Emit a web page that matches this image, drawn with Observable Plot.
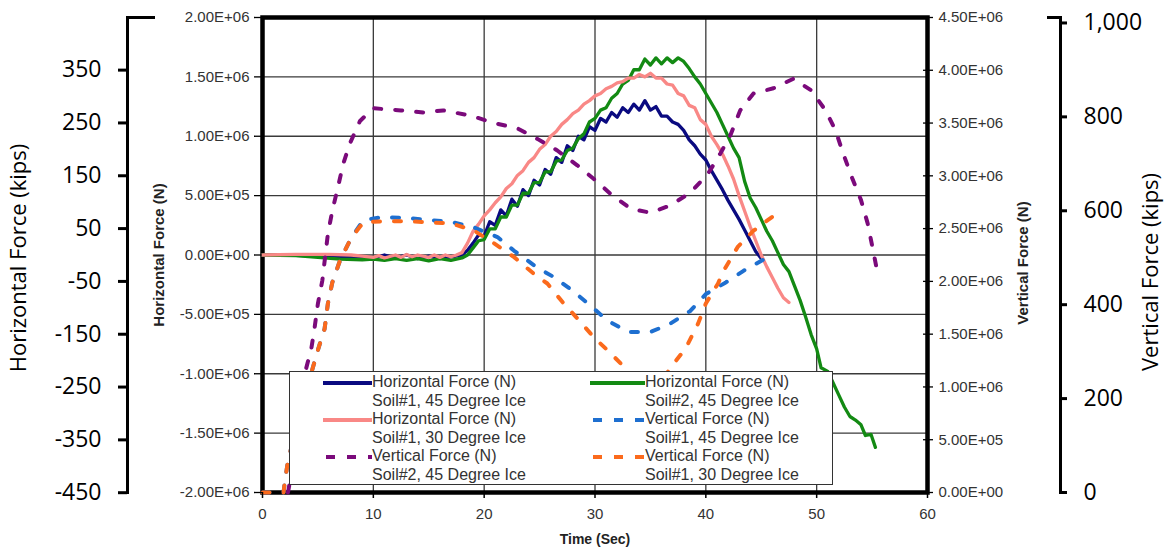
<!DOCTYPE html>
<html>
<head>
<meta charset="utf-8">
<script src="https://cdn.jsdelivr.net/npm/d3@7"></script>
<script src="https://cdn.jsdelivr.net/npm/@observablehq/plot@0.6"></script>
<style>
  body { margin: 0; background: #fff; }
  #wrap { position: relative; width: 1167px; height: 550px; }
  #legend { position: absolute; left: 289px; top: 371px; width: 544px; height: 114px; box-sizing: border-box;
            border: 1px solid #333; background: #fff; font-family: "Liberation Sans", Arial, sans-serif;
            font-size: 16px; color: #333; }
  .item { position: absolute; }
  .item svg { position: absolute; top: 6px; }
  .item .txt { position: absolute; line-height: 18.5px; white-space: nowrap; }
</style>
</head>
<body>
<div id="wrap"><div id="legend"></div></div>
<script>
// ---- data (time in s, force in MN) ----
const hS1_45 = [[0,0],[2,0],[4,-0.005],[6,-0.01],[8,-0.02],[9,-0.015],[10,-0.025],[11,0.0],[12,-0.025],[13,0.0],[14,-0.03],[15,-0.01],[16,-0.03],[17,-0.015],[18,0.0],[18.5,0.04],[19,0.1],[19.5,0.17],[20,0.16],[20.5,0.28],[21,0.25],[21.5,0.38],[22,0.33],[22.5,0.47],[23,0.41],[23.5,0.55],[24,0.5],[24.5,0.63],[25,0.59],[25.5,0.72],[26,0.68],[26.5,0.82],[27,0.78],[27.5,0.92],[28,0.88],[28.5,1.0],[29,0.97],[29.5,1.08],[30,1.05],[30.5,1.15],[31,1.12],[31.5,1.2],[32,1.16],[32.5,1.24],[33,1.2],[33.5,1.27],[34,1.22],[34.5,1.3],[35,1.22],[35.5,1.25],[36,1.17],[36.5,1.17],[37,1.12],[37.5,1.1],[38,1.05],[38.5,0.97],[39,0.92],[39.5,0.85],[40,0.8],[40.5,0.71],[41,0.63],[41.5,0.55],[42,0.46],[42.5,0.38],[43,0.3],[43.5,0.21],[44,0.12],[44.5,0.03],[45,-0.03]];
const hS1_30 = [[0,0.0],[3,0.005],[6,0.005],[8,0.0],[9,-0.01],[10,-0.02],[10.5,-0.005],[11,-0.025],[12,0.0],[12.5,-0.02],[13,0.005],[13.5,-0.015],[14,0.0],[15,-0.02],[15.5,0.0],[16,-0.02],[16.5,0.0],[17,-0.015],[17.5,0.0],[18,0.02],[18.5,0.1],[19,0.2],[19.5,0.26],[20,0.33],[20.5,0.38],[21,0.44],[21.5,0.49],[22,0.56],[22.5,0.6],[23,0.67],[23.5,0.71],[24,0.78],[24.5,0.82],[25,0.89],[25.5,0.93],[26,1.0],[26.5,1.04],[27,1.1],[27.5,1.14],[28,1.19],[28.5,1.22],[29,1.27],[29.5,1.3],[30,1.34],[30.5,1.36],[31,1.4],[31.5,1.42],[32,1.45],[32.5,1.46],[33,1.49],[33.5,1.49],[34,1.52],[34.5,1.5],[35,1.53],[35.5,1.49],[36,1.49],[36.5,1.44],[37,1.43],[37.5,1.36],[38,1.34],[38.5,1.26],[39,1.24],[39.5,1.14],[40,1.1],[40.5,1.0],[41,0.93],[41.5,0.85],[42,0.75],[42.5,0.64],[43,0.5],[43.5,0.37],[44,0.24],[44.5,0.12],[45,0.0],[45.5,-0.1],[46,-0.19],[46.5,-0.28],[47,-0.36],[47.5,-0.4]];
const hS2_45 = [[0,0],[3,-0.005],[5,-0.02],[7,-0.035],[9,-0.04],[10,-0.035],[11,-0.045],[12,-0.03],[13,-0.045],[14,-0.03],[15,-0.05],[16,-0.03],[17,-0.045],[18,-0.025],[18.5,0.0],[19,0.06],[19.5,0.12],[20,0.13],[20.5,0.22],[21,0.22],[21.5,0.32],[22,0.32],[22.5,0.42],[23,0.42],[23.5,0.52],[24,0.52],[24.5,0.61],[25,0.61],[25.5,0.7],[26,0.7],[26.5,0.79],[27,0.8],[27.5,0.88],[28,0.9],[28.5,0.98],[29,1.02],[29.5,1.12],[30,1.15],[30.5,1.22],[31,1.24],[31.5,1.32],[32,1.36],[32.5,1.44],[33,1.47],[33.5,1.56],[34,1.56],[34.5,1.65],[35,1.6],[35.5,1.66],[36,1.61],[36.5,1.66],[37,1.62],[37.5,1.66],[38,1.63],[38.5,1.57],[39,1.5],[39.5,1.44],[40,1.36],[40.5,1.28],[41,1.2],[41.5,1.1],[42,1.0],[42.5,0.9],[43,0.82],[43.5,0.62],[44,0.48],[44.5,0.4],[45,0.3],[45.5,0.2],[46,0.12],[46.5,0.02],[47,-0.08],[47.5,-0.14],[48,-0.26],[48.5,-0.38],[49,-0.52],[49.5,-0.67],[50,-0.79],[50.4,-0.95],[51,-0.98],[51.5,-1.08],[52,-1.18],[52.5,-1.28],[53,-1.36],[53.5,-1.39],[54,-1.43],[54.4,-1.52],[54.9,-1.51],[55.3,-1.62]];
const vS2_45 = [[2.3,0],[2.8,0.3],[3.3,0.7],[3.9,1.16],[4.4,1.36],[4.7,1.56],[5.0,1.79],[5.4,2.01],[5.9,2.45],[6.3,2.67],[6.8,2.89],[7.3,3.12],[7.9,3.31],[8.8,3.52],[10,3.64],[12.5,3.62],[14.5,3.6],[16.3,3.62],[18.8,3.57],[20.9,3.5],[23,3.45],[24.8,3.35],[26.6,3.24],[28.4,3.1],[29.9,2.97],[31.4,2.83],[33.2,2.69],[35,2.65],[36.8,2.72],[38.6,2.84],[40.2,3.02],[41.3,3.21],[42.2,3.38],[43.1,3.62],[44.3,3.78],[46.1,3.83],[47.9,3.92],[49.5,3.81],[50.8,3.62],[51.7,3.43],[52.4,3.21],[53.2,2.98],[54,2.77],[54.6,2.55],[55.4,2.13]];
const vS1_45 = [[0,0],[1.9,0.0],[2.0,0.09],[2.3,0.3],[3.5,0.8],[5.0,1.35],[5.6,1.55],[5.9,1.79],[6.3,1.99],[7.0,2.2],[8.0,2.41],[9.1,2.58],[10.9,2.61],[13.1,2.6],[15.2,2.58],[17.2,2.56],[19.1,2.51],[21.2,2.42],[22.7,2.29],[24.8,2.13],[26.3,2.04],[28,1.91],[29.6,1.77],[31.1,1.63],[33,1.52],[35,1.52],[36.8,1.6],[38.6,1.72],[40,1.88],[41.8,1.99],[43.4,2.1],[45.6,2.23],[46,2.25]];
const vS1_30 = [[0,0],[1.9,0.0],[2.0,0.09],[2.3,0.3],[3.5,0.8],[5.0,1.35],[5.6,1.55],[5.9,1.79],[6.3,1.99],[7.0,2.2],[8.0,2.41],[9.1,2.56],[10.9,2.57],[13.1,2.57],[14.9,2.56],[17,2.55],[19.1,2.48],[20.9,2.36],[22.7,2.23],[24.5,2.07],[25.7,1.98],[27.1,1.8],[28.4,1.65],[29.9,1.47],[31.4,1.32],[32.9,1.16],[34,1.05],[35,1.0],[36,1.05],[36.8,1.18],[38.2,1.37],[39.3,1.6],[40,1.79],[41.1,1.98],[41.6,2.1],[42.9,2.33],[44.3,2.48],[46.1,2.62],[46.5,2.65]];

// ---- tick values ----
const xTicks = [0, 10, 20, 30, 40, 50, 60];
const hTicksN = [-2e6, -1.5e6, -1e6, -5e5, 0, 5e5, 1e6, 1.5e6, 2e6];
const vTicksN = [0, 5e5, 1e6, 1.5e6, 2e6, 2.5e6, 3e6, 3.5e6, 4e6, 4.5e6];
const kipsHTicks = [-450, -350, -250, -150, -50, 50, 150, 250, 350];
const kipsVTicks = [0, 200, 400, 600, 800, 1000];

// ---- series definitions ----
const seriesDefs = [
  {name: ["Horizontal Force (N)", "Soil#1, 45 Degree Ice"], data: hS1_45, kind: "H", color: "#0a0a80", dash: null, col: 0, row: 0},
  {name: ["Horizontal Force (N)", "Soil#2, 45 Degree Ice"], data: hS2_45, kind: "H", color: "#138a13", dash: null, col: 1, row: 0},
  {name: ["Horizontal Force (N)", "Soil#1, 30 Degree Ice"], data: hS1_30, kind: "H", color: "#f98886", dash: null, col: 0, row: 1},
  {name: ["Vertical Force (N)", "Soil#1, 45 Degree Ice"], data: vS1_45, kind: "V", color: "#1e6fd0", dash: "7,14", col: 1, row: 1},
  {name: ["Vertical Force (N)", "Soil#2, 45 Degree Ice"], data: vS2_45, kind: "V", color: "#7b0a7b", dash: "7,14", col: 0, row: 2},
  {name: ["Vertical Force (N)", "Soil#1, 30 Degree Ice"], data: vS1_30, kind: "V", color: "#fb6a1c", dash: "7,14", col: 1, row: 2}
];

// ---- conversions ----
const KIP = 4448.22;
const vToY = v => -2e6 + v * 4e6 / 4.5e6;
const yToV = y => (y + 2e6) * 4.5e6 / 4e6;
const sci = n => {
  if (Math.abs(n) < 1e-6) return "0.00E+00";
  const e = Math.floor(Math.log10(Math.abs(n)) + 1e-9);
  const m = n / Math.pow(10, e);
  return m.toFixed(2) + "E" + (e < 0 ? "-" : "+") + String(Math.abs(e)).padStart(2, "0");
};
const kfmt = k => k.toLocaleString("en-US");

const lineMarks = seriesDefs.map(s => Plot.line(
  s.data.map(([t, v]) => ({t, y: s.kind === "H" ? v * 1e6 : vToY(v * 1e6)})),
  {x: "t", y: "y", stroke: s.color, strokeWidth: s.dash ? 4 : 3.3, strokeDasharray: s.dash, strokeLinejoin: "round"}
));

const FONT = "'Liberation Sans', Arial, sans-serif";
const OUTER = "'Open Sans', sans-serif";

const chart = Plot.plot({
  width: 1167, height: 550,
  marginLeft: 262, marginRight: 240, marginTop: 17, marginBottom: 58,
  x: {domain: [0, 60], axis: null},
  y: {domain: [-2e6, 2e6], axis: null},
  style: {fontFamily: FONT, background: "white", overflow: "visible"},
  marks: [
    Plot.gridX(xTicks.slice(1, -1), {stroke: "#3a3a3a", strokeOpacity: 1, strokeWidth: 1.3}),
    Plot.gridY(hTicksN.slice(1, -1), {stroke: "#3a3a3a", strokeOpacity: 1, strokeWidth: 1.3}),
    Plot.frame({stroke: "black", strokeWidth: 4.5}),
    ...lineMarks,
    // bottom axis (time)
    Plot.axisX(xTicks, {anchor: "bottom", tickSize: 6, tickPadding: 10, fontSize: 15, stroke: "black", fill: "#333", strokeWidth: 1.5, tickFormat: d => String(d), label: null}),
    // inner left axis (N)
    Plot.axisY(hTicksN, {anchor: "left", tickSize: 8, tickPadding: 5, fontSize: 15, stroke: "black", fill: "#333", strokeWidth: 1.3, tickFormat: sci, label: null}),
    // inner right axis (N, vertical force)
    Plot.axisY(vTicksN.map(vToY), {anchor: "right", dx: -5, tickSize: 10, tickPadding: 6, fontSize: 15, stroke: "black", fill: "#333", strokeWidth: 1.3, tickFormat: d => sci(Math.round(yToV(d) / 1000) * 1000), label: null}),
    // outer left axis (kips)
    Plot.frame({anchor: "left", dx: -135, stroke: "black", strokeWidth: 3}),
    Plot.axisY(kipsHTicks.map(k => k * KIP), {anchor: "left", dx: -135, tickSize: 9, tickPadding: 17, fontSize: 23, fontFamily: OUTER, stroke: "black", fill: "black", strokeWidth: 3, tickFormat: d => kfmt(Math.round(d / KIP)), label: null}),
    Plot.axisY([2e6], {anchor: "left", dx: -107, tickSize: 28, stroke: "black", strokeWidth: 3, tickFormat: () => "", label: null}),
    // outer right axis (kips, vertical force)
    Plot.frame({anchor: "right", dx: 133, stroke: "black", strokeWidth: 3}),
    Plot.axisY(kipsVTicks.map(k => vToY(k * KIP)), {anchor: "right", dx: 133, tickSize: 6, tickPadding: 17, fontSize: 23, fontFamily: OUTER, stroke: "black", fill: "black", strokeWidth: 3, tickFormat: d => kfmt(Math.round(yToV(d) / KIP)), label: null}),
    Plot.axisY([2e6], {anchor: "right", dx: 119, tickSize: 14, stroke: "black", strokeWidth: 3, tickFormat: () => "", label: null}),
    // axis titles
    Plot.text(["Horizontal Force (kips)"], {text: d => d, frameAnchor: "left", textAnchor: "middle", dx: -244, dy: 3, rotate: -90, fontSize: 22, fontFamily: OUTER, fill: "black"}),
    Plot.text(["Horizontal Force (N)"], {text: d => d, frameAnchor: "left", textAnchor: "middle", dx: -103, dy: 0, rotate: -90, fontSize: 15, fontWeight: "bold", fill: "#222"}),
    Plot.text(["Vertical Force (N)"], {text: d => d, frameAnchor: "right", textAnchor: "middle", dx: 96, dy: 8, rotate: -90, fontSize: 15, fontWeight: "bold", fill: "#222"}),
    Plot.text(["Vertical Force (kips)"], {text: d => d, frameAnchor: "right", textAnchor: "middle", dx: 223, dy: 17, rotate: -90, fontSize: 22, fontFamily: OUTER, fill: "black"}),
    Plot.text(["Time (Sec)"], {text: d => d, frameAnchor: "bottom", dy: 51, fontSize: 14, fontWeight: "bold", fill: "#222"})
  ]
});

const wrap = document.getElementById("wrap");
wrap.insertBefore(chart, wrap.firstChild);

// ---- legend ----
const legend = document.getElementById("legend");
const colX = [[33, 82], [300, 355]]; // [symbol start, text start] per column
seriesDefs.forEach(s => {
  const item = document.createElement("div");
  item.className = "item";
  item.style.left = "0px";
  item.style.top = (1 + s.row * 37) + "px";
  const [sx, tx] = colX[s.col];
  const w = tx - sx;
  item.innerHTML =
    `<svg width="${w}" height="8" style="left:${sx}px"><line x1="0" y1="4" x2="${w}" y2="4" stroke="${s.color}" stroke-width="4" ${s.dash ? 'stroke-dasharray="9,12" stroke-dashoffset="-3"' : ''}/></svg>` +
    `<div class="txt" style="left:${tx}px">${s.name[0]}<br>${s.name[1]}</div>`;
  legend.appendChild(item);
});
</script>
</body>
</html>
